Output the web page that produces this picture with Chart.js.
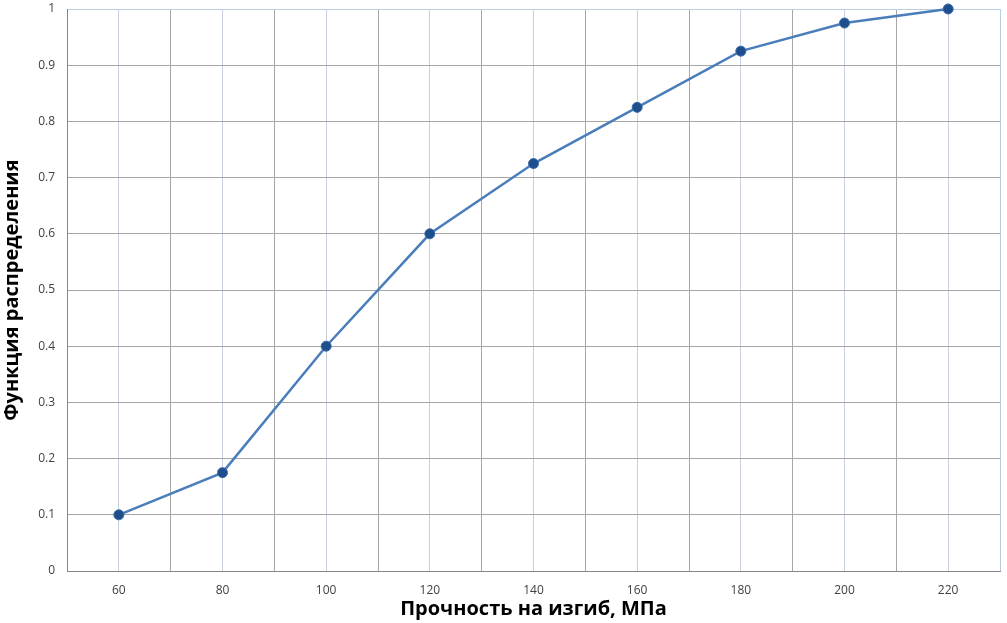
<!DOCTYPE html>
<html><head><meta charset="utf-8">
<script src="https://cdn.jsdelivr.net/npm/chart.js@4/dist/chart.umd.min.js"></script>
<style>html,body{margin:0;padding:0;background:#fff}#w{width:1007px;height:623px}</style>
</head><body><div id="w"><canvas id="c"></canvas></div>
<script>
const strength = [60, 80, 100, 120, 140, 160, 180, 200, 220];
const cdf = [0.1, 0.175, 0.4, 0.6, 0.725, 0.825, 0.925, 0.975, 1.0];
const xTitle = 'Прочность на изгиб, МПа';
const yTitle = 'Функция распределения';

function noPad(s) { s.paddingTop = 0; s.paddingRight = 0; s.paddingLeft = 0; s.paddingBottom = 0; }

new Chart(document.getElementById('c'), {
  type: 'line',
  data: { datasets: [{
    data: strength.map((x, i) => ({x, y: cdf[i]})),
    borderColor: '#4a7ebb', borderWidth: 2.5,
    pointBackgroundColor: '#1f4e8c', pointBorderColor: '#3a6aa8', pointBorderWidth: 1,
    pointRadius: 5, tension: 0, clip: false
  }]},
  options: {
    responsive: true, maintainAspectRatio: false, animation: false,
    layout: { autoPadding: false, padding: { top: 9, right: 7, left: 0, bottom: 0 } },
    plugins: { legend: { display: false }, tooltip: { enabled: false } },
    scales: {
      x: {
        type: 'linear', min: 50, max: 230,
        afterFit: s => { s.height = 52; noPad(s); },
        border: { color: '#868686', width: 1 },
        grid: { color: c => (c.tick && c.tick.value % 20 === 0) ? '#c7d0dc' : (c.tick && (c.tick.value===230) ? '#b9cde5' : '#a6a6a6'), drawTicks: false, lineWidth: 1 },
        ticks: { stepSize: 10, autoSkip: false, maxRotation: 0, padding: 12, color: '#404040',
          font: { family: 'Open Sans', size: 12 },
          callback: v => (v % 20 === 0) ? String(v) : '' },
        title: { display: true, text: xTitle, color: '#000', padding: { top: 0, bottom: 2 },
          font: { family: 'Open Sans', size: 20, weight: 'bold' } }
      },
      y: {
        min: 0, max: 1,
        afterFit: s => { s.width = 67; noPad(s); },
        border: { color: '#868686', width: 1 },
        grid: { color: c => (c.tick && c.tick.value === 1) ? '#b9cde5' : '#a6a6a6', drawTicks: false },
        ticks: { stepSize: 0.1, padding: 12, color: '#404040',
          font: { family: 'Open Sans', size: 12 },
          callback: v => String(Math.round(v * 10) / 10) },
        title: { display: true, text: yTitle, color: '#000', padding: { top: 0, bottom: 0 },
          font: { family: 'Open Sans', size: 20, weight: 'bold' } }
      }
    }
  }
});
</script></body></html>
